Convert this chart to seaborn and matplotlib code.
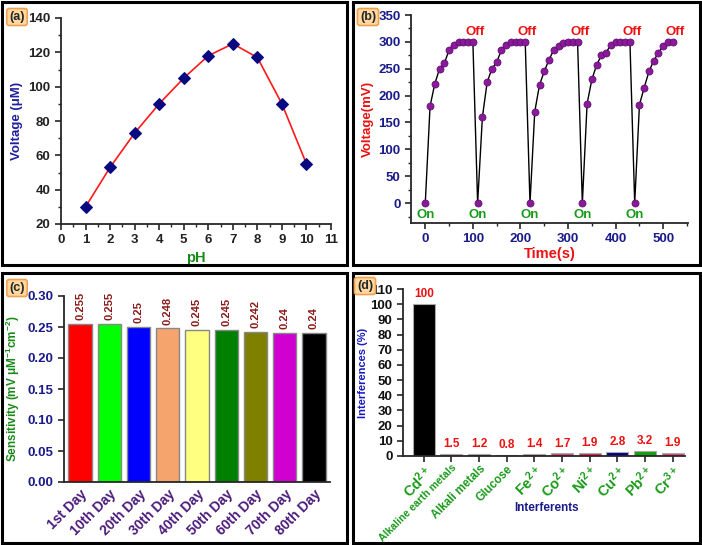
import numpy as np
import pandas as pd
import matplotlib
matplotlib.use("Agg")
import matplotlib.pyplot as plt
import seaborn as sns
from matplotlib.patches import Rectangle
from matplotlib.ticker import MultipleLocator, FormatStrFormatter

# ---- data ----
ph = [1, 2, 3, 4, 5, 6, 7, 8, 9, 10]
ph_voltage = [30, 53, 73, 90, 105, 118, 125, 117, 90, 55]

time_s = [0, 10, 20, 30, 40, 50, 60, 70, 80, 90, 100,
          110, 120, 130, 140, 150, 160, 170, 180, 190, 200, 210,
          220, 230, 240, 250, 260, 270, 280, 290, 300, 310, 320,
          330, 340, 350, 360, 370, 380, 390, 400, 410, 420, 430,
          440, 450, 460, 470, 480, 490, 500, 510, 520]
time_voltage = [0, 180, 222, 250, 260, 285, 295, 300, 300, 300, 300,
                0, 160, 225, 250, 262, 285, 295, 300, 300, 300, 300,
                0, 170, 220, 245, 267, 285, 293, 298, 300, 300, 300,
                0, 185, 230, 257, 275, 280, 295, 300, 300, 300, 300,
                0, 183, 215, 245, 265, 280, 293, 300, 300]
on_times = [0, 110, 220, 330, 440]
off_times = [100, 210, 320, 430, 520]

days = ['1st Day', '10th Day', '20th Day', '30th Day', '40th Day',
        '50th Day', '60th Day', '70th Day', '80th Day']
sensitivity = [0.255, 0.255, 0.25, 0.248, 0.245, 0.245, 0.242, 0.24, 0.24]
day_colors = ['#ff0000', '#00ff00', '#0000ff', '#f4a46c', '#ffff80',
              '#008000', '#808000', '#d000d0', '#000000']

interferents = ['Cd$^{2+}$', 'Alkaline earth metals', 'Alkali metals', 'Glucose',
                'Fe$^{2+}$', 'Co$^{2+}$', 'Ni$^{2+}$', 'Cu$^{2+}$', 'Pb$^{2+}$', 'Cr$^{3+}$']
interference = [100, 1.5, 1.2, 0.8, 1.4, 1.7, 1.9, 2.8, 3.2, 1.9]
interf_labels = ['100', '1.5', '1.2', '0.8', '1.4', '1.7', '1.9', '2.8', '3.2', '1.9']
interf_colors = ['#000000', '#e0102a', '#10107a', '#505050', '#801040',
                 '#e04080', '#e02050', '#000090', '#10a010', '#e04080']

sns.set_style('ticks')
plt.rcParams['font.family'] = ['Liberation Sans', 'DejaVu Sans']
plt.rcParams['font.weight'] = 'bold'
plt.rcParams['mathtext.fontset'] = 'custom'
plt.rcParams['mathtext.rm'] = 'Liberation Sans:bold'
plt.rcParams['mathtext.bf'] = 'Liberation Sans:bold'
plt.rcParams['mathtext.default'] = 'bf'
plt.rcParams['axes.linewidth'] = 1.3

fig = plt.figure(figsize=(7.02, 5.45), dpi=100)

# panel frames
for (x0, y0, x1, y1) in [(2, 2, 347, 265), (353, 2, 700, 265),
                         (2, 273, 347, 543), (353, 273, 700, 543)]:
    fig.add_artist(Rectangle((x0 / 702, 1 - y1 / 545), (x1 - x0) / 702, (y1 - y0) / 545,
                             transform=fig.transFigure, fill=False,
                             edgecolor='black', linewidth=2.2))

def tag(text, x, y):
    fig.text(x / 702, 1 - y / 545, text, fontsize=9, fontweight='bold',
             ha='center', va='center',
             bbox=dict(boxstyle='round,pad=0.2', facecolor='#ffd9a0',
                       edgecolor='#f0a050', linewidth=1.2))

def style_axes(ax, tick_color):
    sns.despine(ax=ax)
    ax.tick_params(axis='both', which='major', direction='out', length=4, width=1.2,
                   labelsize=9.5, labelcolor=tick_color)
    ax.tick_params(axis='both', which='minor', direction='out', length=2, width=1)
    for lab in ax.get_xticklabels() + ax.get_yticklabels():
        lab.set_fontweight('bold')

# ---- (a) ----
ax1 = fig.add_axes([61 / 702, 1 - 224 / 545, 270 / 702, 206 / 545])
dfa = pd.DataFrame({'pH': ph, 'Voltage': ph_voltage})
sns.lineplot(data=dfa, x='pH', y='Voltage', ax=ax1, color='#ff1a1a', linewidth=1.2,
             marker='D', markersize=6, markerfacecolor='#0a0a80',
             markeredgecolor='#0a0a80')
ax1.set_xlim(0, 11)
ax1.set_ylim(20, 140)
ax1.xaxis.set_major_locator(MultipleLocator(1))
ax1.xaxis.set_minor_locator(MultipleLocator(0.5))
ax1.yaxis.set_major_locator(MultipleLocator(20))
ax1.yaxis.set_minor_locator(MultipleLocator(10))
ax1.set_xlabel('pH', color='#1a8a1a', fontsize=10.5, fontweight='bold', labelpad=3)
ax1.set_ylabel('Voltage (μM)', color='#2020a0', fontsize=9.5, fontweight='bold', labelpad=4)
style_axes(ax1, '#222222')
tag('(a)', 17, 17)

# ---- (b) ----
ax2 = fig.add_axes([411 / 702, 1 - 223 / 545, 277 / 702, 208 / 545])
dfb = pd.DataFrame({'Time': time_s, 'Voltage': time_voltage})
sns.lineplot(data=dfb, x='Time', y='Voltage', ax=ax2, color='black', linewidth=1.0)
sns.scatterplot(data=dfb, x='Time', y='Voltage', ax=ax2, color='#8a1a9a',
                edgecolor='#5a0a6a', linewidth=0.5, s=26, zorder=3)
for t in on_times:
    ax2.text(t, -22, 'On', color='#1a9a1a', fontsize=9.5, fontweight='bold',
             ha='center', va='center')
for t in off_times:
    ax2.text(t + 5, 318, 'Off', color='#ee1111', fontsize=9.5, fontweight='bold',
             ha='center', va='center')
ax2.set_xlim(-30, 552)
ax2.set_ylim(-37, 350)
ax2.xaxis.set_major_locator(MultipleLocator(100))
ax2.xaxis.set_minor_locator(MultipleLocator(50))
ax2.yaxis.set_major_locator(MultipleLocator(50))
ax2.yaxis.set_minor_locator(MultipleLocator(25))
ax2.set_xlabel('Time(s)', color='#ee1111', fontsize=10.5, fontweight='bold', labelpad=1)
ax2.set_ylabel('Voltage(mV)', color='#ee1111', fontsize=9.5, fontweight='bold', labelpad=3)
style_axes(ax2, '#1a1a8a')
tag('(b)', 368, 17)

# ---- (c) ----
ax3 = fig.add_axes([64 / 702, 1 - 482 / 545, 266 / 702, 186 / 545])
dfc = pd.DataFrame({'Day': days, 'Sensitivity': sensitivity})
sns.barplot(data=dfc, x='Day', y='Sensitivity', hue='Day', palette=day_colors,
            legend=False, ax=ax3, width=0.8, edgecolor='#888888', linewidth=1.0,
            saturation=1)
for i, v in enumerate(sensitivity):
    ax3.text(i, v + 0.006, f'{v:g}', rotation=90, color='#8b1a1a', fontsize=8,
             fontweight='bold', ha='center', va='bottom')
ax3.set_ylim(0, 0.30)
ax3.set_xlim(-0.55, 8.55)
ax3.yaxis.set_major_locator(MultipleLocator(0.05))
ax3.yaxis.set_major_formatter(FormatStrFormatter('%.2f'))
ax3.set_xlabel('')
ax3.set_ylabel('Sensitivity (mV μM$^{-1}$cm$^{-2}$)', color='#1a8a1a', fontsize=8.5,
               fontweight='bold', labelpad=4)
style_axes(ax3, '#1a1a8a')
ax3.tick_params(axis='x', length=0, labelcolor='#4b1a7a', labelsize=10)
plt.setp(ax3.get_xticklabels(), rotation=45, ha='right', rotation_mode='anchor')
tag('(c)', 17, 288)

# ---- (d) ----
ax4 = fig.add_axes([403 / 702, 1 - 456 / 545, 282 / 702, 167 / 545])
dfd = pd.DataFrame({'Interferent': interferents, 'Interference': interference})
sns.barplot(data=dfd, x='Interferent', y='Interference', hue='Interferent',
            palette=interf_colors, legend=False, ax=ax4, width=0.8,
            edgecolor='#aaaaaa', linewidth=0.8, saturation=1)
for i, (v, s) in enumerate(zip(interference, interf_labels)):
    ax4.text(i, v + 2.5, s, color='#ee1111', fontsize=8.5, fontweight='bold',
             ha='center', va='bottom')
ax4.set_ylim(0, 110)
ax4.set_xlim(-0.75, 9.45)
ax4.yaxis.set_major_locator(MultipleLocator(10))
ax4.set_xlabel('Interferents', color='#1a1a8a', fontsize=8.5, fontweight='bold')
ax4.xaxis.set_label_coords(0.51, -0.275)
ax4.set_ylabel('Interferences (%)', color='#1a1ac0', fontsize=8, fontweight='bold', labelpad=2)
style_axes(ax4, '#111111')
ax4.tick_params(axis='x', labelcolor='#1a9a1a', labelsize=10.5, pad=1)
plt.setp(ax4.get_xticklabels(), rotation=45, ha='right', rotation_mode='anchor')
for lab in ax4.get_xticklabels():
    if lab.get_text() == 'Alkaline earth metals':
        lab.set_fontsize(7.5)
    elif lab.get_text() in ('Alkali metals', 'Glucose'):
        lab.set_fontsize(8.3)
tag('(d)', 365, 286)

fig.savefig('out.png', dpi=100)
